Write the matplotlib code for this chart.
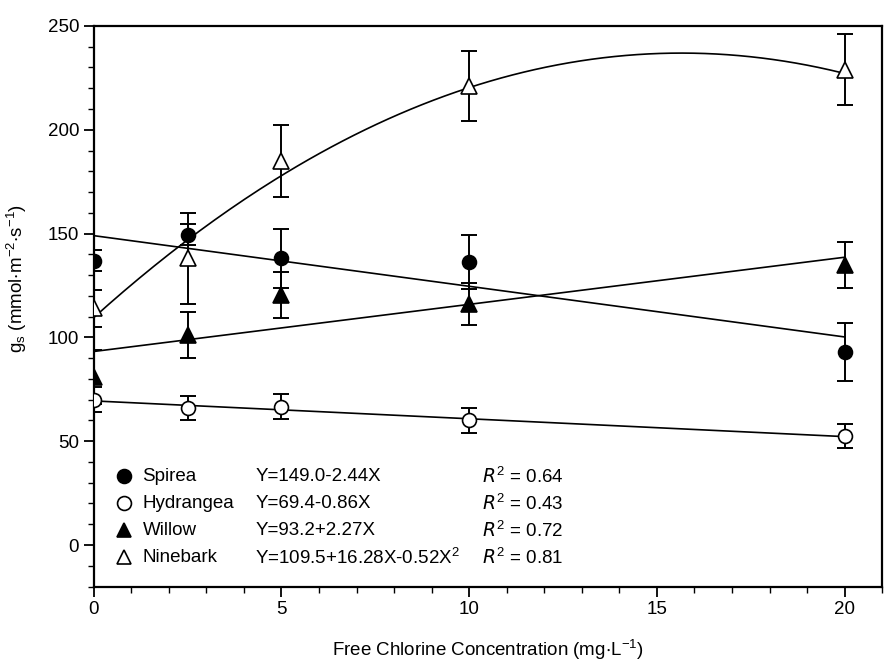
import numpy as np
import matplotlib.pyplot as plt
from matplotlib.ticker import MultipleLocator

plt.rcParams['font.family'] = ['Liberation Sans', 'DejaVu Sans']
plt.rcParams['mathtext.default'] = 'regular'

# chlorine levels (mg/L)
conc = [0, 2.5, 5, 10, 20]

# stomatal conductance means and error bars
spirea = [137, 149.5, 138, 136.5, 93]
spirea_err = [5, 5, 14, 13, 14]
hydrangea = [70, 66, 66.5, 60, 52.5]
hydrangea_err = [6, 6, 6, 6, 6]
willow = [81, 101, 120.5, 116, 135]
willow_err = [13, 11, 11, 10, 11]
ninebark = [114, 138, 185, 221, 229]
ninebark_err = [9, 22, 17.5, 17, 17]

# regression coefficients (highest power first) and text
spirea_fit = [-2.44, 149.0]
hydrangea_fit = [-0.86, 69.4]
willow_fit = [2.27, 93.2]
ninebark_fit = [-0.52, 16.28, 109.5]

names = ['Spirea', 'Hydrangea', 'Willow', 'Ninebark']
equations = ['Y=149.0-2.44X', 'Y=69.4-0.86X', 'Y=93.2+2.27X',
             'Y=109.5+16.28X-0.52X$^2$']
r_squared = ['0.64', '0.43', '0.72', '0.81']

fig = plt.figure(figsize=(8.84, 6.65), dpi=100)
ax = fig.add_axes([0.106, 0.118, 0.892, 0.843])

xs = np.linspace(0, 20, 200)
series = [
    (spirea, spirea_err, spirea_fit, 'o', 'black'),
    (hydrangea, hydrangea_err, hydrangea_fit, 'o', 'white'),
    (willow, willow_err, willow_fit, '^', 'black'),
    (ninebark, ninebark_err, ninebark_fit, '^', 'white'),
]

handles = []
for vals, err, fit, mk, fc in series:
    ax.plot(xs, np.polyval(fit, xs), color='black', lw=1.2, zorder=2)
    ax.errorbar(conc, vals, yerr=err, fmt='none', ecolor='black',
                elinewidth=1.4, capsize=6, capthick=1.4, zorder=3)
    h, = ax.plot(conc, vals, ls='none', marker=mk, ms=10 if mk == 'o' else 11,
                 mfc=fc, mec='black', mew=1.2, zorder=4)
    handles.append(h)

ax.set_xlim(0, 21)
ax.set_ylim(-20, 250)
ax.xaxis.set_major_locator(MultipleLocator(5))
ax.xaxis.set_minor_locator(MultipleLocator(1))
ax.yaxis.set_major_locator(MultipleLocator(50))
ax.yaxis.set_minor_locator(MultipleLocator(10))
ax.tick_params(which='major', direction='out', length=7, width=1.3,
               labelsize=13.5)
ax.tick_params(which='minor', direction='out', length=4, width=1.0)
for sp in ax.spines.values():
    sp.set_linewidth(1.6)

ax.set_xlabel('Free Chlorine Concentration (mg$\\cdot$L$^{-1}$)', fontsize=13.5,
              labelpad=14)
ax.set_ylabel('g$_s$ (mmol$\\cdot$m$^{-2}$$\\cdot$s$^{-1}$)', fontsize=13.5)
ax.yaxis.set_label_coords(-0.082, 0.55)

# legend block with equations
row_y = [33, 20, 7, -6]
for h, name, eq, r2, y in zip(handles, names, equations, r_squared, row_y):
    ax.plot([0.8], [y], ls='none', marker=h.get_marker(), ms=10,
            mfc=h.get_markerfacecolor(), mec='black', mew=1.2)
    ax.text(1.3, y, name, fontsize=13.5, va='center')
    ax.text(4.3, y, eq, fontsize=13.5, va='center')
    ax.text(10.35, y, '$\\mathit{R}^2$ = ' + r2, fontsize=13.5, va='center')

fig.savefig('out.png', dpi=100)
